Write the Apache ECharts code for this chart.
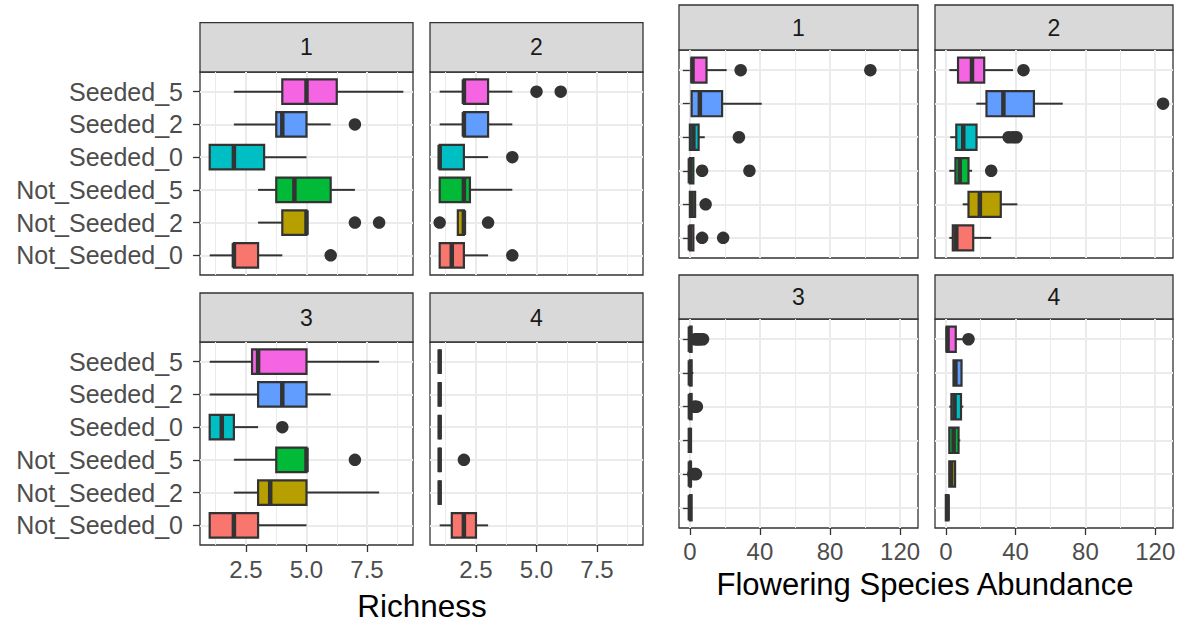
<!DOCTYPE html>
<html><head><meta charset="utf-8">
<script src="https://cdn.jsdelivr.net/npm/echarts@6/dist/echarts.min.js"></script>
<style>html,body{margin:0;padding:0;background:#fff}#c{width:1182px;height:627px}</style>
</head><body><div id="c"></div>
<script>
// ---------- DATA ----------
const groups = ['Not_Seeded_0','Not_Seeded_2','Not_Seeded_5','Seeded_0','Seeded_2','Seeded_5'];
const groupColors = ['#F8766D','#B79F00','#00BA38','#00BFC4','#619CFF','#F564E3'];
const facetLabels = ['1','2','3','4'];

// box stats per group: [min, Q1, median, Q3, max], in the order of `groups`
const richness1 = [[1,2,2,3,4],[3,4,5,5,5],[3,3.75,4.5,6,7],[1,1,2,3.25,5],[2,3.75,4,5,6],[2,4,5,6.25,9]];
const richnessOut1 = [[6],[7,8],[],[],[7],[]];
const richness2 = [[1,1,1.5,2,3],[1.75,1.75,2,2,2],[1,1,2,2.25,4],[1,1,1,2,3],[1,2,2,3,4],[1,2,2,3,4]];
const richnessOut2 = [[4],[1,3],[],[4],[],[5,6]];
const richness3 = [[1,1,2,3,5],[2,3,3.5,5,8],[2,3.75,5,5,5],[1,1,1.5,2,3],[1,3,4,5,6],[1,2.75,3,5,8]];
const richnessOut3 = [[],[],[7],[4],[],[]];
const richness4 = [[1,1.5,2,2.5,3],[1,1,1,1,1],[1,1,1,1,1],[1,1,1,1,1],[1,1,1,1,1],[1,1,1,1,1]];
const richnessOut4 = [[],[],[2],[],[],[]];

const abundance1 = [[0,0,0,2,2],[0,0,1,3,3],[0,0,0,2,2],[0,0,2,5,8.5],[1,1,5.7,18.4,41],[1,1,1.5,9.5,21]];
const abundanceOut1 = [[7,19],[9],[7,34],[28],[],[29,103]];
const abundance2 = [[2,4,6,15.7,26],[9.7,13,19.5,31.5,41],[2,5.5,8,13,15],[2.5,6,10,17.6,34.7],[17.5,23.3,33,50.5,67],[2,7,15,22,38.5]];
const abundanceOut2 = [[],[],[26],[36,38.5,40.5],[124.5],[44.5]];
const abundance3 = [[0,0,0,1,1],[0,0,0,0.5,1],[0,0,0,0,1],[0,0,0,1,1.5],[0,0,0,1,2],[0,0,0,1,2.5]];
const abundanceOut3 = [[],[2,3,3.5],[],[2.5,3,4],[],[3,4,5,6,7.5]];
const abundance4 = [[0,0,1,1.5,2],[2,2,3,5.3,5.3],[2,2,4.5,7.3,8.3],[2,3.2,5,8.7,10],[4.4,4.4,5.5,9,9],[0.5,0.5,1,5.7,10]];
const abundanceOut4 = [[],[],[],[],[],[13]];

const richnessTicks = [2.5, 5, 7.5];
const richnessMinor = [1.25, 3.75, 6.25, 8.75];
const abundanceTicks = [0, 40, 80, 120];
const abundanceMinor = [20, 60, 100];
const richnessTitle = 'Richness';
const abundanceTitle = 'Flowering Species Abundance';

// ---------- LAYOUT ----------
const FONT = "'Liberation Sans', Arial, Helvetica, sans-serif";
const DARK = '#333333';
const GRIDC = '#EBEBEB';
const catPos = groups.map((g, i) => i + 1);

const R = {min: 0.6, max: 9.4, ticks: richnessTicks, minor: richnessMinor, fmt: v => v.toFixed(1), margin: 12};
const A = {min: -6.2, max: 130.2, ticks: abundanceTicks, minor: abundanceMinor, fmt: v => String(v), margin: 11};

const panels = [
  {left:200, top:72,  width:213, height:203, stripTop:22.7, box:richness1, out:richnessOut1, lab:facetLabels[0], sc:R, yLab:true,  yTick:true,  xShow:false},
  {left:430, top:72,  width:213, height:203, stripTop:22.7, box:richness2, out:richnessOut2, lab:facetLabels[1], sc:R, yLab:false, yTick:false, xShow:false},
  {left:200, top:342, width:213, height:203, stripTop:293,  box:richness3, out:richnessOut3, lab:facetLabels[2], sc:R, yLab:true,  yTick:true,  xShow:true},
  {left:430, top:342, width:213, height:203, stripTop:293,  box:richness4, out:richnessOut4, lab:facetLabels[3], sc:R, yLab:false, yTick:false, xShow:true},
  {left:679, top:50,  width:239, height:208, stripTop:5,    box:abundance1, out:abundanceOut1, lab:facetLabels[0], sc:A, yLab:false, yTick:true,  xShow:false},
  {left:935, top:50,  width:238, height:208, stripTop:5,    box:abundance2, out:abundanceOut2, lab:facetLabels[1], sc:A, yLab:false, yTick:false, xShow:false},
  {left:679, top:319, width:239, height:209, stripTop:275,  box:abundance3, out:abundanceOut3, lab:facetLabels[2], sc:A, yLab:false, yTick:true,  xShow:true},
  {left:935, top:319, width:238, height:209, stripTop:275,  box:abundance4, out:abundanceOut4, lab:facetLabels[3], sc:A, yLab:false, yTick:false, xShow:true}
];

function renderBox(params, api) {
  const pos = api.value(0);
  const v = [api.value(1), api.value(2), api.value(3), api.value(4), api.value(5)];
  const px = v.map(x => api.coord([x, pos])[0]);
  const cy = api.coord([v[0], pos])[1];
  const h = api.size([0, 1])[1] * 0.75;
  const color = groupColors[Math.round(pos) - 1];
  return {type: 'group', children: [
    {type: 'line', shape: {x1: px[0], y1: cy, x2: px[1], y2: cy}, style: {stroke: DARK, lineWidth: 2}},
    {type: 'line', shape: {x1: px[3], y1: cy, x2: px[4], y2: cy}, style: {stroke: DARK, lineWidth: 2}},
    {type: 'rect', shape: {x: px[1], y: cy - h / 2, width: px[3] - px[1], height: h}, style: {fill: color, stroke: DARK, lineWidth: 2.2}},
    {type: 'line', shape: {x1: px[2], y1: cy - h / 2, x2: px[2], y2: cy + h / 2}, style: {stroke: DARK, lineWidth: 4.5}}
  ]};
}

const grid = [], xAxis = [], yAxis = [], series = [], graphic = [];
panels.forEach((p, i) => {
  grid.push({left: p.left, top: p.top, width: p.width, height: p.height, show: true,
    backgroundColor: '#fff', borderColor: DARK, borderWidth: 1.3, containLabel: false, outerBoundsMode: 'none'});
  xAxis.push({type: 'value', gridIndex: i, min: p.sc.min, max: p.sc.max, position: 'bottom',
    axisLine: {show: false},
    axisTick: {show: p.xShow, length: 7, customValues: p.sc.ticks, lineStyle: {color: DARK, width: 1.3}},
    axisLabel: {show: p.xShow, customValues: p.sc.ticks, formatter: p.sc.fmt, color: '#4D4D4D', fontSize: 24, fontFamily: FONT, margin: p.sc.margin},
    splitLine: {show: true, lineStyle: {color: GRIDC, width: 2}}});
  xAxis.push({type: 'value', gridIndex: i, min: p.sc.min, max: p.sc.max, position: 'bottom', offset: 0,
    axisLine: {show: false},
    axisTick: {show: false, customValues: p.sc.minor},
    axisLabel: {show: false, customValues: p.sc.minor},
    splitLine: {show: true, lineStyle: {color: GRIDC, width: 1}}});
  yAxis.push({type: 'value', gridIndex: i, min: 0.4, max: 6.6,
    axisLine: {show: false},
    axisTick: {show: p.yTick, length: 7, customValues: catPos, lineStyle: {color: DARK, width: 1.3}},
    axisLabel: {show: p.yLab, customValues: catPos, formatter: v => groups[Math.round(v) - 1],
      color: '#4D4D4D', fontSize: 25, fontFamily: FONT, margin: 17},
    splitLine: {show: true, lineStyle: {color: GRIDC, width: 2}}});
  series.push({type: 'custom', xAxisIndex: 2 * i, yAxisIndex: i, renderItem: renderBox, z: 3, silent: true,
    encode: {x: [1, 2, 3, 4, 5], y: 0},
    data: p.box.map((b, k) => [catPos[k]].concat(b))});
  const pts = [];
  p.out.forEach((arr, k) => arr.forEach(v => pts.push([v, catPos[k]])));
  series.push({type: 'scatter', xAxisIndex: 2 * i, yAxisIndex: i, z: 4, silent: true,
    symbol: 'circle', symbolSize: 12.5, itemStyle: {color: DARK, opacity: 1}, data: pts});
  graphic.push({type: 'group', children: [
    {type: 'rect', shape: {x: p.left, y: p.stripTop, width: p.width, height: p.top - p.stripTop},
      style: {fill: '#D9D9D9', stroke: DARK, lineWidth: 1.3}},
    {type: 'text', style: {text: p.lab, x: p.left + p.width / 2, y: (p.stripTop + p.top) / 2,
      align: 'center', verticalAlign: 'middle', textAlign: 'center', textVerticalAlign: 'middle',
      fontSize: 23, fontFamily: FONT, fill: '#1A1A1A'}}
  ]});
});
graphic.push({type: 'text', style: {text: richnessTitle, x: 422, y: 606, align: 'center', verticalAlign: 'middle',
  textAlign: 'center', textVerticalAlign: 'middle', fontSize: 31.5, fontFamily: FONT, fill: '#000'}});
graphic.push({type: 'text', style: {text: abundanceTitle, x: 925, y: 584, align: 'center', verticalAlign: 'middle',
  textAlign: 'center', textVerticalAlign: 'middle', fontSize: 31, fontFamily: FONT, fill: '#000'}});

const chart = echarts.init(document.getElementById('c'), null, {renderer: 'svg'});
chart.setOption({backgroundColor: '#fff', animation: false, grid, xAxis, yAxis, series, graphic});
</script></body></html>
